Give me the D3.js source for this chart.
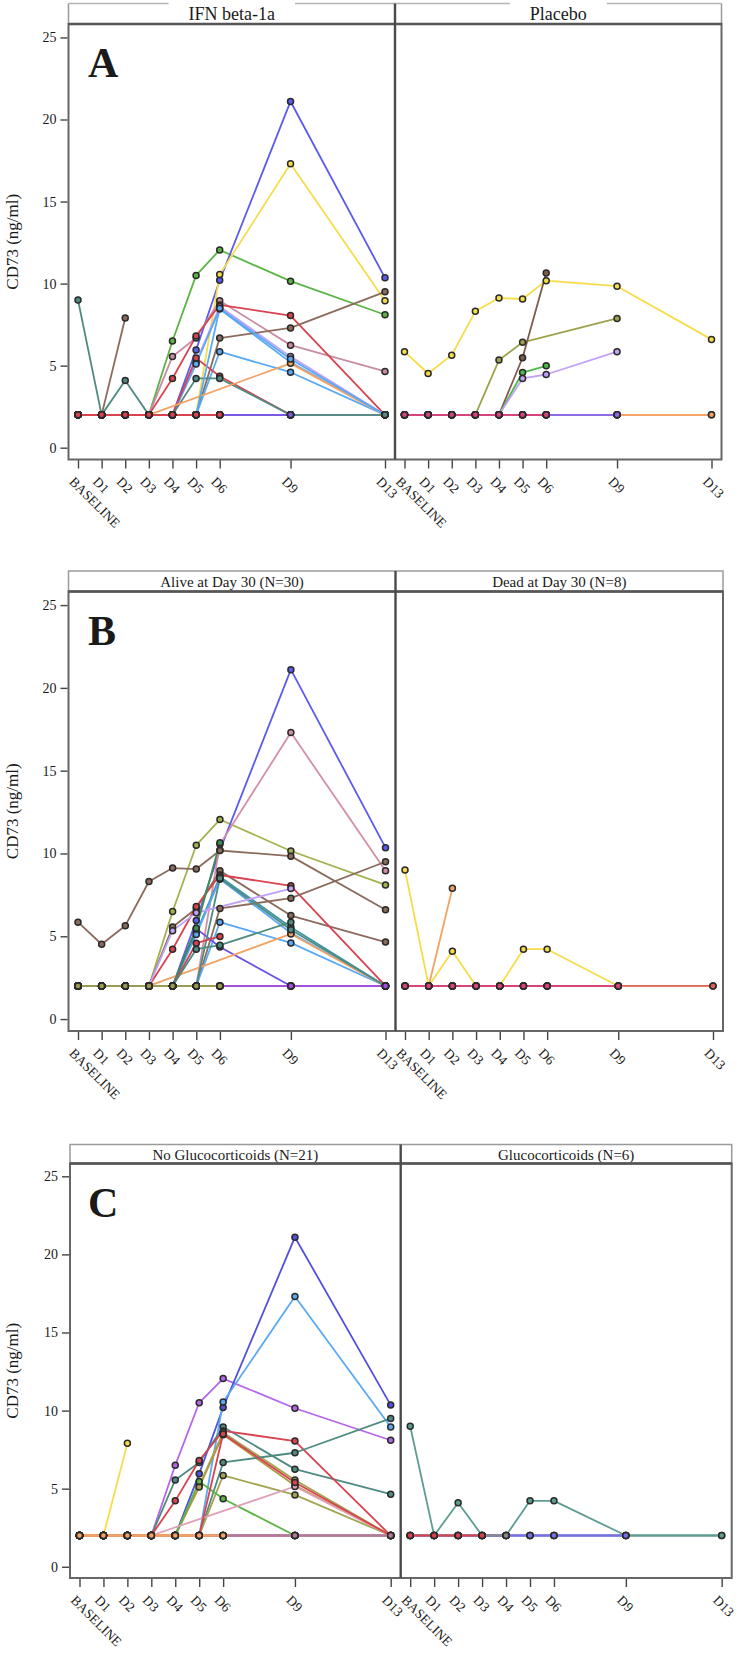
<!DOCTYPE html>
<html><head><meta charset="utf-8">
<script src="https://cdn.jsdelivr.net/npm/d3@7"></script>
<style>
body{margin:0;background:#fff}
svg{display:block}
text{font-family:"Liberation Serif","Times New Roman",serif;fill:#1a1a1a}
</style>
</head><body>
<svg id="chart" width="738" height="1653"></svg>
<script>
// ---------- data ----------
const timepoints = ["BASELINE","D1","D2","D3","D4","D5","D6","D9","D13"];
const studyDay   = [0,1,2,3,4,5,6,9,13];
const yTicks     = [0,5,10,15,20,25];

// CD73 (ng/ml) per patient, one value per timepoint (null = not measured)
const P01 = [2,2,2,2,6.5,10.5,12.05,10.15,8.1];
const P02 = [2,2,2,2,2,5.95,10.2,21.1,10.35];
const P03 = [2,2,2,2,2,2,10.55,17.3,8.95];
const P04 = [2,2,2,2,5.56,6.68,8.95,6.25,4.65];
const P05 = [2,2,2,2,4.22,6.8,8.7,8.05,2];
const P06 = [2,2,2,2,2,5.2,8.6,5.55,2];
const P07 = [2,2,2,2,2,5.1,8.45,5.2,2];
const P08 = [2,2,2,2,2,2,6.68,7.3,9.5];
const P09 = [2,2,2,2,2,2,5.85,4.6,2];
const P10 = [2,2,2,2,2,5.46,4.35,2,2];
const P11 = [9.0,2,4.1,2,2,4.22,4.22,2,2];
const P12 = [2,2,2,2,null,null,null,5.14,2];
const P13 = [2,2,2,2,2,2,8.5,5.4,2];
const P14 = [2,2,7.9,null,null,null,null,null,null];
const F01 = [2,2,2,2,2,2,2,2,2];
const F02 = [2,2,2,2,2,2,2,2,null];
const F03 = [2,2,2,2,2,2,2,null,null];
const F04 = [2,2,2,2,2,2,2,2,2];
const F05 = [2,2,2,2,2,2,2,2,null];
const F06 = [2,2,2,2,2,2,2,null,null];
const F07 = [2,2,2,2,2,2,2,2,2];
const F08 = [2,2,2,2,2,2,null,null,null];
const G01 = [2,2,2,2,null,null,null,null,null];
const G02 = [2,2,2,2,2,2,2,2,null];
const G03 = [2,2,2,2,2,2,2,2,null];
const G04 = [2,2,2,2,2,null,null,null,null];
const G05 = [2,2,2,2,2,2,2,2,2];
const Q01 = [5.85,4.52,5.64,8.31,9.12,9.06,10.18,9.84,6.6];
const Q02 = [2,2,2,2,5.34,6.42,null,7.88,null];
const Q03 = [2,2,2,2,2,5.48,10.65,null,null];
const Q04 = [2,2,2,2,2,4.58,4.99,null,null];
const Q05 = [2,2,2,2,2,4.22,4.46,5.85,null];
const H01 = [2,2,2,2,2,2,2,null,null];
const H02 = [2,2,2,2,2,2,2,2,null];
const H03 = [2,2,2,2,2,2,2,2,2];
const H04 = [2,2,2,2,2,2,2,null,null];
const H05 = [2,2,2,2,2,2,2,2,null];
const H06 = [2,2,2,2,2,2,2,2,2];

const patientIds = ["P01","P02","P03","P04","P05","P06","P07","P08","P09","P10","P11","P12","P13","P14",
  "F01","F02","F03","F04","F05","F06","F07","F08","G01","G02","G03","G04","G05",
  "Q01","Q02","Q03","Q04","Q05","H01","H02","H03","H04","H05","H06"];
const cd73 = [P01,P02,P03,P04,P05,P06,P07,P08,P09,P10,P11,P12,P13,P14,
  F01,F02,F03,F04,F05,F06,F07,F08,G01,G02,G03,G04,G05,
  Q01,Q02,Q03,Q04,Q05,H01,H02,H03,H04,H05,H06];
const treatment = ["IFN","IFN","IFN","IFN","IFN","IFN","IFN","IFN","IFN","IFN","IFN","IFN","IFN","IFN",
  "IFN","IFN","IFN","IFN","IFN","IFN","IFN","IFN","IFN","IFN","IFN","IFN","IFN",
  "Placebo","Placebo","Placebo","Placebo","Placebo","Placebo","Placebo","Placebo","Placebo","Placebo","Placebo"];
const status30 = ["Alive","Alive","Alive","Alive","Alive","Alive","Alive","Alive","Alive","Alive","Dead","Alive","Alive","Dead",
  "Dead","Dead","Alive","Alive","Alive","Alive","Alive","Alive","Dead","Dead","Alive","Alive","Alive",
  "Alive","Alive","Alive","Alive","Alive","Dead","Dead","Alive","Alive","Alive","Alive"];
const steroid = ["No","No","No","No","No","No","No","No","No","No","Yes","No","No","No",
  "No","No","No","No","No","No","No","No","Yes","Yes","Yes","Yes","Yes",
  "NA","NA","NA","NA","NA","NA","NA","NA","NA","NA","NA"];

// ---------- styling ----------
const C = {green:"#5cb446",blue:"#5b5bef",yellow:"#f7dc4a",mauve:"#c98ca2",red:"#d8434f",lav:"#c2a2f7",
  lblue:"#5aa9f4",brown:"#8b6b5c",teal:"#4f8b80",orange:"#f3a263",olive:"#9ea24e",purple:"#a14fe3",
  pink:"#d6457a",indigo:"#6a4fe6",gray:"#8a8a8a"};

const rows = patientIds.map((id,i)=>{
  const pts = cd73[i].map((v,j)=>({day:studyDay[j], v})).filter(d=>d.v!=null);
  let end = -1; cd73[i].forEach((v,j)=>{ if(v!=null) end=j; });
  return {id, arm:treatment[i], status:status30[i], gc:steroid[i], pts,
          flat: pts.every(d=>d.v===2), end};
});

const panels = [
 {letter:"A", hTop:3.5, top:24, bottom:459.5, x0:68.5, xm:395, x1:721.5, gaps:true, hSize:18,
  facets:[
   {title:"IFN beta-1a", filter:r=>r.arm==="IFN",
    colors:{P01:C.green,P02:C.blue,P03:C.yellow,P04:C.mauve,P05:C.red,P06:C.lav,P07:C.lblue,P08:C.brown,
            P09:C.lblue,P10:C.red,P11:C.teal,P12:C.orange,P13:C.lblue,P14:C.brown},
    flat:{3:C.red,4:C.red,5:C.red,6:C.red,7:"#7a5ae0",8:"#5a8a88"}},
   {title:"Placebo", filter:r=>r.arm==="Placebo",
    colors:{Q01:C.yellow,Q02:C.olive,Q03:"#7e5c4c",Q04:"#4db848",Q05:C.lav},
    flat:{6:C.pink,7:"#8a6ae8",8:C.orange}}]},
 {letter:"B", hTop:571, top:591.5, bottom:1031, x0:68.5, xm:395.5, x1:723, hSize:15,
  facets:[
   {title:"Alive at Day 30 (N=30)", filter:r=>r.status==="Alive",
    colors:{P01:"#a1b24f",P02:C.blue,P03:"#d48fa4",P04:C.brown,P05:C.red,P06:"#3e97a8",P07:C.lblue,P08:C.brown,
            P09:C.lblue,P10:C.indigo,P12:C.orange,P13:C.teal,Q01:C.brown,Q02:C.lav,Q03:"#3a8f4f",Q04:C.red,Q05:C.teal},
    flat:{3:"#9c9a52",4:"#9c9a52",5:"#9c9a52",6:"#9c9a52",7:C.purple,8:C.purple}},
   {title:"Dead at Day 30 (N=8)", filter:r=>r.status==="Dead",
    colors:{P11:C.yellow,P14:C.orange},
    flat:{3:C.pink,6:C.pink,7:C.pink,8:"#e0605a"}}]},
 {letter:"C", hTop:1144.5, top:1163.5, bottom:1578, x0:70, xm:400.7, x1:731.7, hSize:15,
  facets:[
   {title:"No Glucocorticoids (N=21)", filter:r=>r.arm==="IFN"&&r.gc==="No",
    colors:{P01:"#b565ea",P02:"#5050e0",P03:C.lblue,P04:C.teal,P05:C.red,P06:"#a3a553",P07:"#b09a48",P08:C.teal,
            P09:"#a3a553",P10:C.green,P12:"#e2a0b6",P13:C.red,P14:C.yellow},
    flat:{5:C.orange,6:C.orange,7:"#b57a9a",8:"#b57a9a"}},
   {title:"Glucocorticoids (N=6)", filter:r=>r.arm==="IFN"&&r.gc==="Yes",
    colors:{P11:"#5e9c92"},
    flat:{3:C.red,4:C.gray,7:"#7a70e6",8:"#5e9c92"}}]}
];

// ---------- drawing ----------
const svg = d3.select("#chart");
svg.append("rect").attr("width",738).attr("height",1653).attr("fill","#fff");

panels.forEach(p=>{
  const g = svg.append("g");
  const y = d3.scaleLinear().domain([-0.72,25.82]).range([p.bottom,p.top]);
  const spans = [[p.x0,p.xm],[p.xm,p.x1]];

  // header box
  g.append("rect").attr("x",p.x0).attr("y",p.hTop).attr("width",p.x1-p.x0).attr("height",p.top-p.hTop)
    .attr("fill","#fff").attr("stroke", p.gaps ? "none" : "#9a9a9a").attr("stroke-width",1.5);
  if (p.gaps) {
    g.append("line").attr("x1",p.x0).attr("x2",p.x0).attr("y1",p.hTop).attr("y2",p.top).attr("stroke","#9a9a9a").attr("stroke-width",1.5);
    g.append("line").attr("x1",p.x1).attr("x2",p.x1).attr("y1",p.hTop).attr("y2",p.top).attr("stroke","#9a9a9a").attr("stroke-width",1.5);
  }

  p.facets.forEach((f,fi)=>{
    const [xs,xe] = spans[fi];
    const x = d3.scaleLinear().domain([0,13]).range([xs+9.5, xe-10]);
    const cx = (xs+xe)/2;
    const t = g.append("text").attr("x",cx).attr("y",(p.hTop+p.top)/2+0.5)
      .attr("text-anchor","middle").attr("dominant-baseline","central")
      .style("font-size",p.hSize+"px").text(f.title);
    if (p.gaps) {
      const w = t.node().getComputedTextLength();
      g.append("line").attr("x1",xs).attr("x2",cx-w/2-20).attr("y1",p.hTop).attr("y2",p.hTop).attr("stroke","#b5b5b5").attr("stroke-width",1.5);
      g.append("line").attr("x1",cx+w/2+20).attr("x2",xe).attr("y1",p.hTop).attr("y2",p.hTop).attr("stroke","#b5b5b5").attr("stroke-width",1.5);
    }

    // series
    const sel = rows.filter(f.filter);
    const moving = sel.filter(r=>!r.flat);
    const flats = sel.filter(r=>r.flat).sort((a,b)=>b.end-a.end);
    const ordered = moving.concat(flats);
    const colorOf = r => r.flat ? (f.flat[r.end] || "#888") : (f.colors[r.id] || "#888");
    const line = d3.line().x(d=>x(d.day)).y(d=>y(d.v));
    const lg = g.append("g");
    lg.selectAll("path").data(ordered).join("path")
      .attr("d",r=>line(r.pts)).attr("fill","none")
      .attr("stroke",colorOf).attr("stroke-width",1.8).attr("stroke-linejoin","round");
    const mg = g.append("g");
    ordered.forEach(r=>{
      mg.selectAll(null).data(r.pts).join("circle")
        .attr("cx",d=>x(d.day)).attr("cy",d=>y(d.v)).attr("r",3)
        .attr("fill",colorOf(r)).attr("stroke","#2a2a2a").attr("stroke-width",1.5);
    });

    // x axis
    const xa = g.append("g").attr("transform",`translate(0,${p.bottom})`)
      .call(d3.axisBottom(x).tickValues(studyDay).tickSize(9)
        .tickFormat(d=>timepoints[studyDay.indexOf(d)]));
    xa.select(".domain").remove();
    xa.selectAll(".tick line").attr("stroke","#444").attr("stroke-width",1.4);
    xa.selectAll(".tick text").attr("y",null).attr("dy",null).attr("x",null)
      .attr("text-anchor","start").attr("transform","translate(-10,23) rotate(45)")
      .style("font-size","13.5px").style("font-family","'Liberation Serif',serif").attr("fill","#1a1a1a");
  });

  // plot frame
  g.append("rect").attr("x",p.x0).attr("y",p.top).attr("width",p.x1-p.x0).attr("height",p.bottom-p.top)
    .attr("fill","none").attr("stroke","#666").attr("stroke-width",2);
  g.append("line").attr("x1",p.x0).attr("x2",p.x1).attr("y1",p.top).attr("y2",p.top)
    .attr("stroke","#555").attr("stroke-width",2.6);
  g.append("line").attr("x1",p.xm).attr("x2",p.xm).attr("y1",p.hTop).attr("y2",p.bottom)
    .attr("stroke","#4a4a4a").attr("stroke-width",2.4);

  // y axis
  const ya = g.append("g").attr("transform",`translate(${p.x0-1},0)`)
    .call(d3.axisLeft(y).tickValues(yTicks).tickSize(7).tickPadding(4));
  ya.select(".domain").remove();
  ya.selectAll(".tick line").attr("stroke","#444").attr("stroke-width",1.4);
  ya.selectAll(".tick text").style("font-size","14px").style("font-family","'Liberation Serif',serif").attr("fill","#1a1a1a");

  g.append("text").attr("transform",`translate(12,${(p.top+p.bottom)/2}) rotate(-90)`)
    .attr("text-anchor","middle").attr("dominant-baseline","central")
    .style("font-size","17px").text("CD73 (ng/ml)");

  g.append("text").attr("x",88).attr("y",p.top+53)
    .style("font-size","42px").style("font-weight","bold").text(p.letter);
});
</script>
</body></html>
